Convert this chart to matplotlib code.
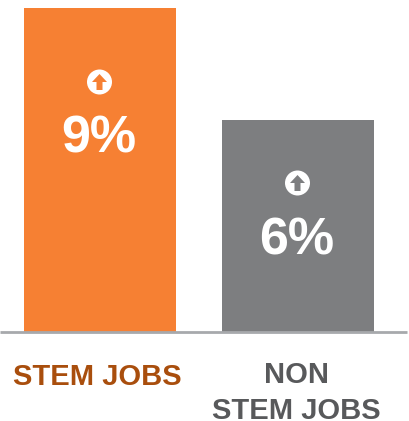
import matplotlib
matplotlib.use('Agg')
import matplotlib.pyplot as plt
from matplotlib.patches import Circle, Polygon

# Data
categories = ['STEM JOBS', 'NON\nSTEM JOBS']
bar_heights = [9, 5.9]
value_labels = ['9%', '6%']
bar_colors = ['#F68033', '#7D7E80']
label_colors = ['#A94E0D', '#58595B']

plt.rcParams['font.family'] = ['Liberation Sans', 'DejaVu Sans']

W, H = 409, 421
fig = plt.figure(figsize=(W / 100, H / 100), dpi=100)
ax = fig.add_axes([24 / W, (H - 332) / H, 350 / W, 324 / H])
ax.set_xlim(0, 350)
ax.set_ylim(0, 9)
ax.axis('off')

xs = [76, 274]
ax.bar(xs, bar_heights, width=152, color=bar_colors, linewidth=0)

# overlay axes in pixel coords for the icons and baseline
ov = fig.add_axes([0, 0, 1, 1])
ov.set_xlim(0, W)
ov.set_ylim(H, 0)
ov.axis('off')
ov.patch.set_alpha(0)
ov.plot([0, 407], [332, 332], color='#A7A9AC', lw=2, solid_capstyle='butt')


def arrow_icon(cx, cy, fc):
    ov.add_patch(Circle((cx, cy), 12.5, fc='white', ec='none'))
    ov.add_patch(Polygon([(cx, cy - 8), (cx + 7.5, cy), (cx + 3, cy),
                          (cx + 3, cy + 8), (cx - 3, cy + 8),
                          (cx - 3, cy), (cx - 7.5, cy)], fc=fc, ec='none'))


for x, lab, c, icon_y, text_y in zip(xs, value_labels, bar_colors, [82, 183], [139, 241]):
    arrow_icon(x + 23.5, icon_y, c)
    ov.text(x + 23, text_y, lab, color='white', fontsize=37.5, fontweight='bold',
            ha='center', va='center')

ov.text(97.5, 377, categories[0], color=label_colors[0], fontsize=21, fontweight='bold',
        ha='center', va='center')
ov.text(296.5, 393, categories[1], color=label_colors[1], fontsize=21, fontweight='bold',
        ha='center', va='center', linespacing=1.37)

fig.savefig('out.png', dpi=100)
